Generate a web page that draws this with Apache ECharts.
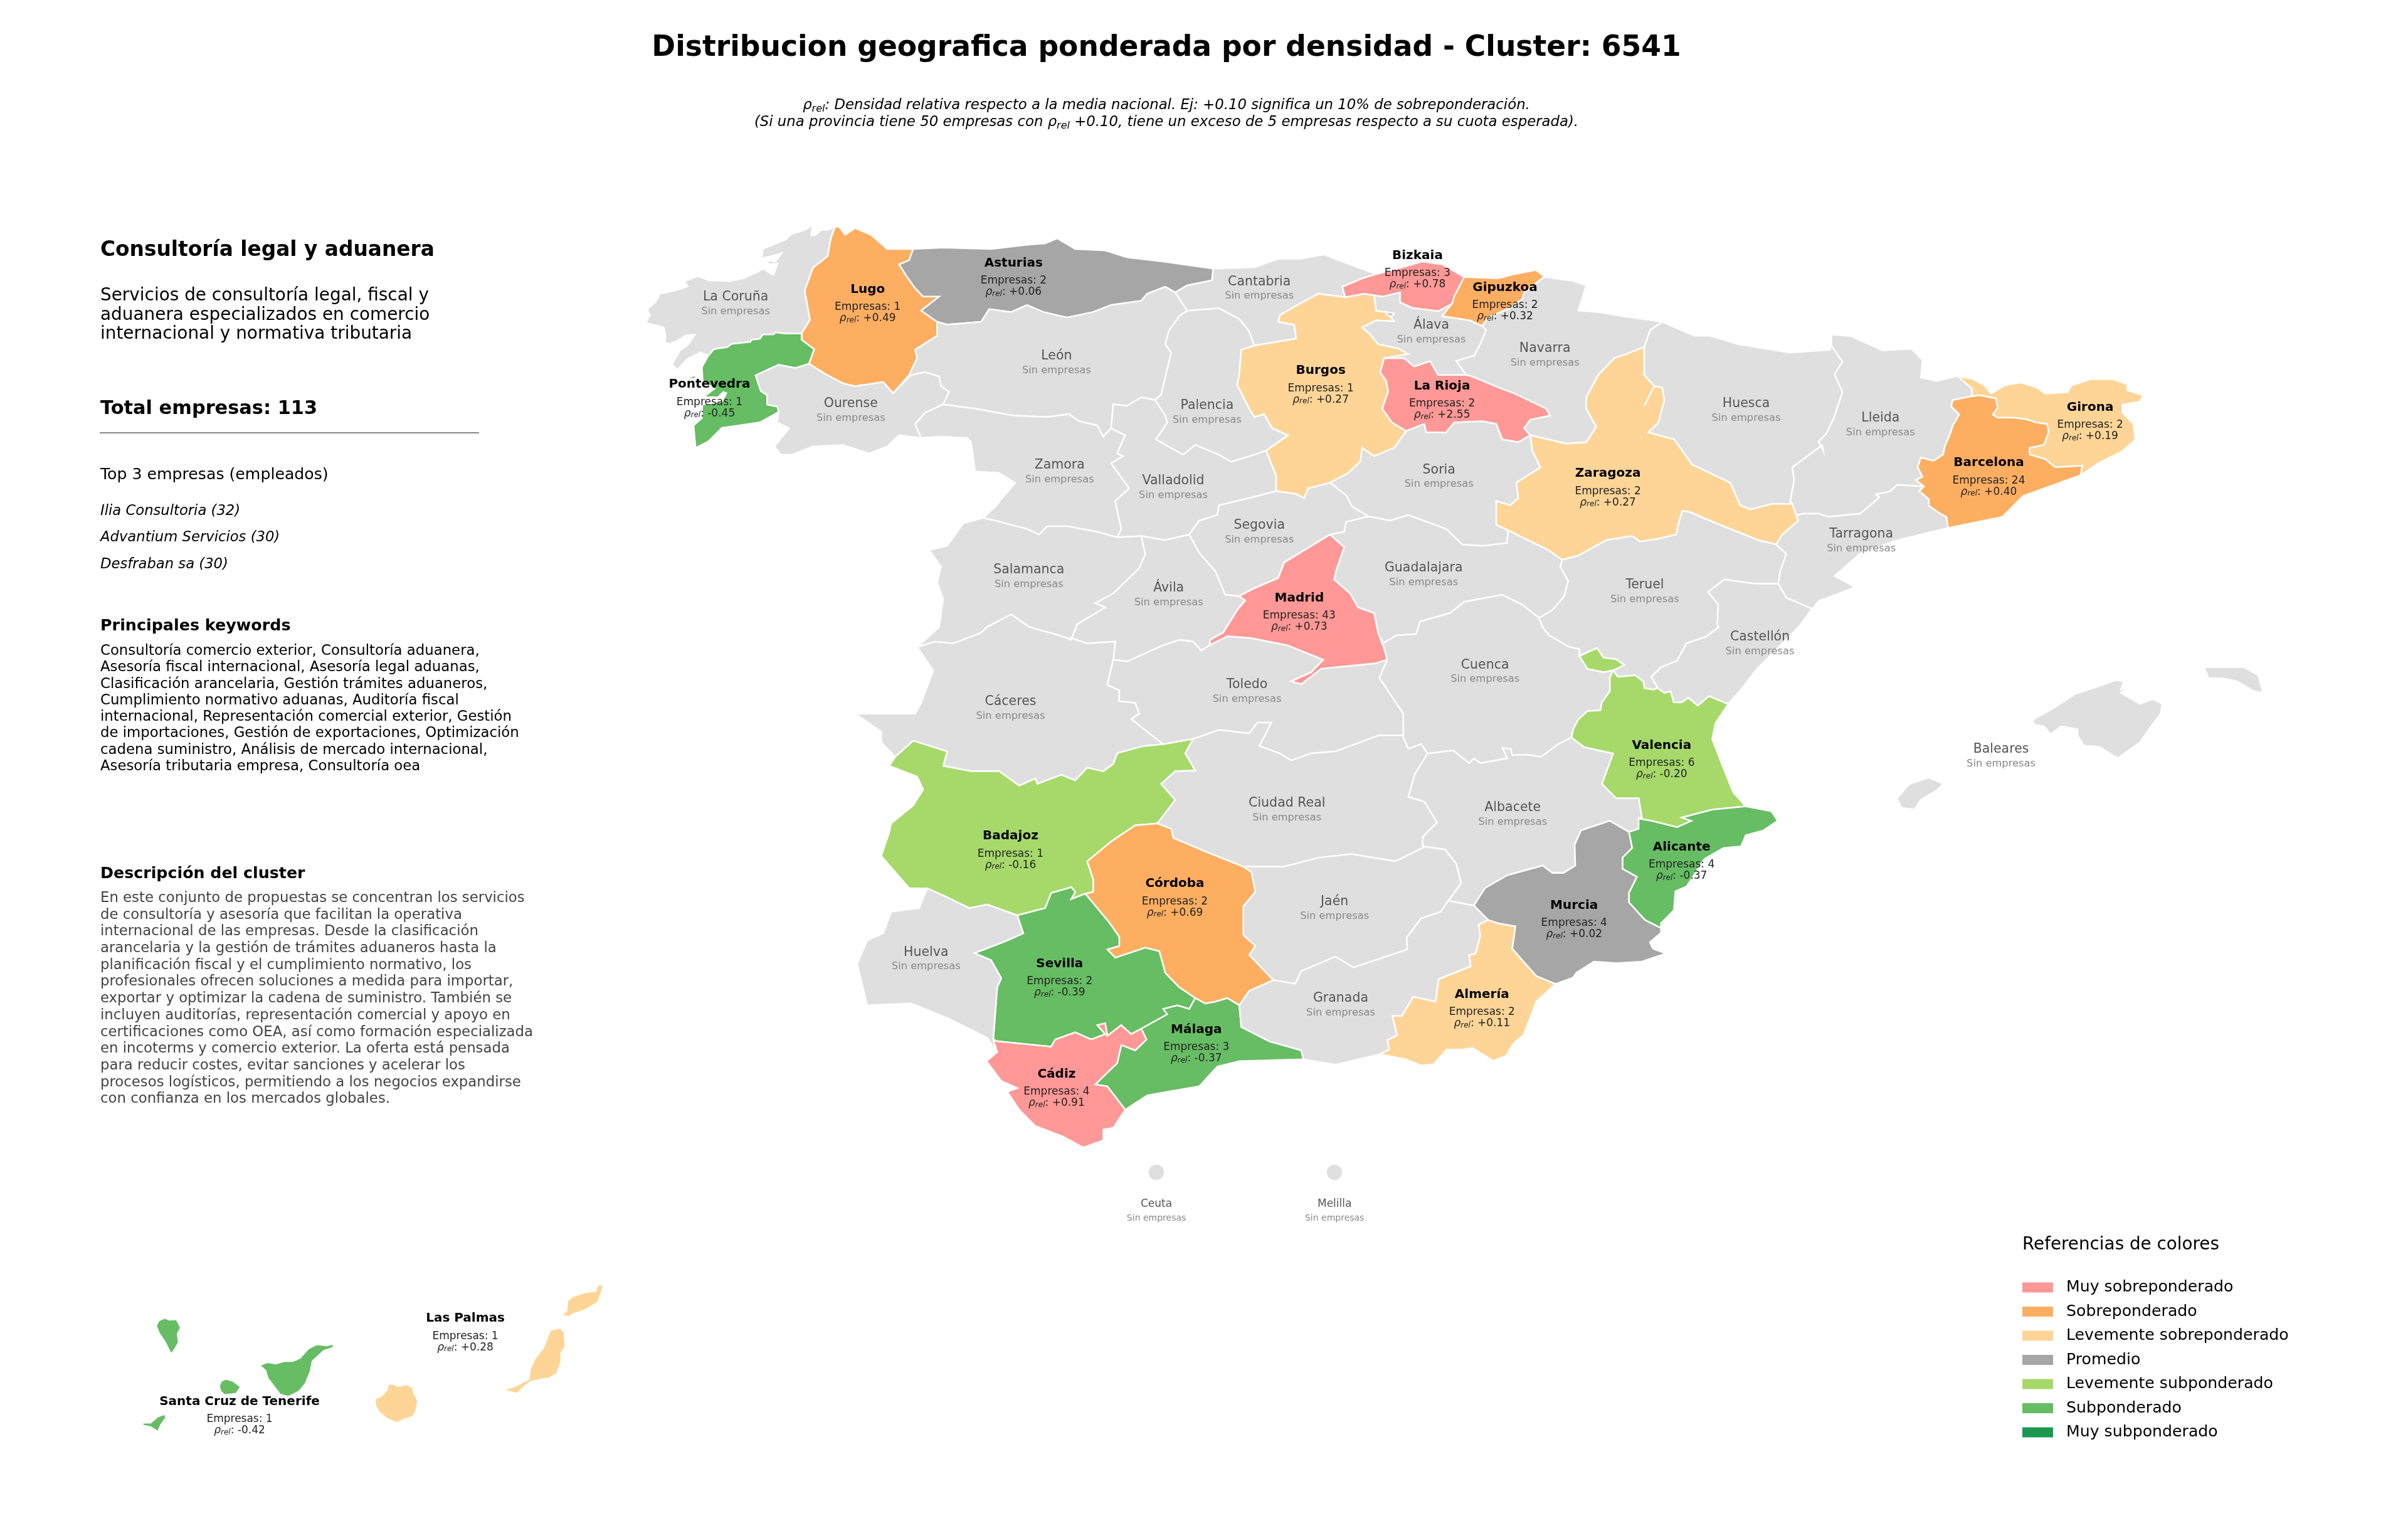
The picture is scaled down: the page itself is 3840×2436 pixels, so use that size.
<!DOCTYPE html>
<html>
<head>
<meta charset="UTF-8">
<title>Distribucion geografica ponderada por densidad</title>
<script src="https://cdn.jsdelivr.net/npm/echarts@6/dist/echarts.min.js"></script>
<style>html,body{margin:0;padding:0;background:#fff}#main{width:3840px;height:2436px}</style>
</head>
<body>
<div id="main"></div>
<script>
// provinces with companies
var provinces = ['Lugo','Asturias','Pontevedra','Bizkaia','Gipuzkoa','Burgos','La Rioja','Zaragoza','Girona','Barcelona','Madrid','Valencia','Badajoz','Córdoba','Alicante','Murcia','Almería','Sevilla','Málaga','Cádiz','Las Palmas','Santa Cruz de Tenerife'];
var empresas = [1,2,1,3,2,1,2,2,2,24,43,6,1,2,4,4,2,2,3,4,1,1];
var rhoRel = [0.49,0.06,-0.45,0.78,0.32,0.27,2.55,0.27,0.19,0.40,0.73,-0.20,-0.16,0.69,-0.37,0.02,0.11,-0.39,-0.37,0.91,0.28,-0.42];

var classLabels = ['Muy sobreponderado','Sobreponderado','Levemente sobreponderado','Promedio','Levemente subponderado','Subponderado','Muy subponderado'];
var classColors = ['#FF9896','#FDAE61','#FED597','#A6A6A6','#A6D96A','#66BD63','#1A9850'];
var classLimits = [[0.7,null],[0.3,0.7],[0.1,0.3],[-0.1,0.1],[-0.3,-0.1],[-0.5,-0.3],[null,-0.5]];

var topEmpresas = ['Ilia Consultoria (32)','Advantium Servicios (30)','Desfraban sa (30)'];
var resumen = ['Servicios de consultoría legal, fiscal y','aduanera especializados en comercio','internacional y normativa tributaria'];
var keywords = ['Consultoría comercio exterior, Consultoría aduanera,','Asesoría fiscal internacional, Asesoría legal aduanas,','Clasificación arancelaria, Gestión trámites aduaneros,','Cumplimiento normativo aduanas, Auditoría fiscal','internacional, Representación comercial exterior, Gestión','de importaciones, Gestión de exportaciones, Optimización','cadena suministro, Análisis de mercado internacional,','Asesoría tributaria empresa, Consultoría oea'];
var descripcion = ['En este conjunto de propuestas se concentran los servicios','de consultoría y asesoría que facilitan la operativa','internacional de las empresas. Desde la clasificación','arancelaria y la gestión de trámites aduaneros hasta la','planificación fiscal y el cumplimiento normativo, los','profesionales ofrecen soluciones a medida para importar,','exportar y optimizar la cadena de suministro. También se','incluyen auditorías, representación comercial y apoyo en','certificaciones como OEA, así como formación especializada','en incoterms y comercio exterior. La oferta está pensada','para reducir costes, evitar sanciones y acelerar los','procesos logísticos, permitiendo a los negocios expandirse','con confianza en los mercados globales.'];

function frame(x0,y0,sx,sy){ return function(){ var out=[]; for(var i=0;i<arguments.length;i+=2) out.push([x0+arguments[i]*sx,y0+arguments[i+1]*sy]); return out; }; }
var z1=frame(1000,330,.638,.4464), z2=frame(2000,330,.638,.4464), z3=frame(2900,500,.51,.51), z4=frame(1300,1000,.638,.574), z5=frame(2200,1000,.51,.51);
var z7=frame(1020,350,1/3,1/3), zc=frame(220,2090,1/3,1/3), zl=frame(580,2020,1/3,1/3);
var PX=2.449;

var arcs = {
 cor_coast:z7(935,35,900,50,870,50,840,75,820,75,830,25,790,50,725,70,700,95,640,120,590,140,585,185,650,170,680,160,650,200,600,195,620,215,660,210,640,265,590,235,565,250,500,280,430,295,330,290,280,270,215,295,230,320,170,340,95,355,85,380,70,400,35,430,50,455,30,495,115,515,125,560,120,585,140,595,180,580,220,555,265,550,230,600,195,625,155,690,180,720,225,670,290,635,330,650,355,620),
 lc_po:z7(355,620,420,610,440,595,530,585,535,575,575,570,590,550,640,550,650,540,700,545,775,545),
 lc_lu:z7(775,545,815,480,790,340,830,230,900,175,915,90,935,35),
 lu_coast:z7(935,35).concat(z1(530,70,545,100,570,75,610,100,650,150,715,150)),
 lu_as:z1(715,150,705,190,680,205,700,250,720,290,740,320,780,320,735,370,775,410),
 lu_le:z1(775,410,775,460,720,510,725,540,705,600,665,665),
 lu_or:z1(665,665,640,625,570,640,540,630,500,600).concat(z7(810,690)),
 lu_po:z7(810,690,835,620,775,575,775,545),
 po_coast:z7(355,620,330,650,298,705,302,775,358,808,305,850,375,850,400,825,415,830,395,870,300,885,298,950,258,985,268,1092),
 po_pt:z7(268,1092,330,1060,395,995,440,990,575,970,640,935,665,920),
 po_or:z7(665,920,660,895,610,885,610,840,580,820,555,745,610,720,665,695,745,710,810,690),
 or_le:z1(665,665,710,600,745,590,780,605,785,640,805,660,790,705),
 or_za:z1(790,705,745,735,720,775,735,825),
 or_pt:z1(735,825,680,815,650,855,605,880,540,850,465,855,410,885,385,885,368,855,405,790,375,770).concat(z7(665,920)),
 as_coast:z1(715,150,790,145,910,150,1000,135,1045,130,1075,112,1120,150,1195,155,1250,180,1340,195,1465,220),
 as_ca:z1(1465,220,1462,262,1400,280,1370,305),
 as_le:z1(1370,305,1345,285,1300,310,1285,335,1210,350,1165,375,1100,395,1040,375,1000,350,960,375,905,365,885,410,800,420,775,410),
 le_ca:z1(1370,305,1400,370),
 le_pa:z1(1400,370,1380,390,1355,440,1345,490,1360,520,1335,670,1320,690),
 le_va:z1(1320,690,1305,685,1285,680,1250,710,1215,705,1210,790),
 le_za:z1(1210,790,1190,820,1175,780,1130,765,1105,740,1050,750,965,745,870,720,790,705),
 za_va:z1(1210,790,1245,815,1225,880,1240,890,1210,915,1255,1005,1220,1050,1235,1150,1225,1180),
 za_sa:z1(1225,1180,1175,1160,1100,1140,1050,1140,1030,1170,1000,1150,920,1120,890,1110),
 za_pt:z1(890,1110,920,1070,970,985,930,950,870,945,860,840,850,825,780,820,735,825),
 pa_ca:z1(1400,370,1480,362,1530,400,1555,445,1568,495),
 pa_bu:z1(1568,495,1535,510,1530,600,1525,635,1555,720,1568,750).concat(z2(25,740,45,790,85,815,30,870)),
 va_pa:z1(1320,690,1345,745,1350,770,1322,830,1390,885,1420,850,1480,885,1510,910,1568,885).concat(z2(30,870)),
 va_bu:z2(30,870,55,960,55,1015),
 va_se:z2(55,1015,0,1035).concat(z1(1480,1065,1475,1100,1430,1120,1405,1170)),
 va_av:z1(1405,1170,1345,1190,1285,1175),
 va_sa:z1(1285,1175,1225,1180),
 ca_coast:z1(1465,220,1568,215).concat(z2(60,185,115,185,175,170,230,200,305,240)),
 ca_bi:z2(305,240,270,255,220,285,228,322),
 ca_bu:z2(228,322,160,310,115,345,65,385,60,410,100,420,105,470,0,495),
 bu_bi:z2(228,322,275,310,300,315),
 bu_al:z2(300,315,305,370,330,375,350,408,305,405,270,430,290,455,310,490,360,505,385,525,325,540),
 bu_ri:z2(325,540,315,590,330,620,335,660,320,720,345,770,380,800),
 bu_so:z2(380,800,350,860,300,890,270,860,265,910,235,950,190,985),
 bu_se:z2(190,985,135,1005,125,1040,105,1025,55,1015),
 ri_so:z2(380,800,425,775,430,805,480,805,500,770,570,765,605,775,620,830,660,840,690,815),
 ri_na:z2(690,815,675,790,690,760,740,745,730,720,650,665,620,650,545,605,530,600),
 ri_al:z2(530,600,460,600,440,550,400,570,375,540,325,540),
 al_bi:z2(300,315,320,320,365,305,365,340,395,360,460,372,495,345),
 al_gi:z2(495,345,470,390,540,405,570,425),
 al_na:z2(570,425,580,440,565,490,550,530,505,550,530,600),
 bi_coast:z2(305,240,345,225,420,195,470,205,525,250),
 bi_gi:z2(525,250,500,320,495,345),
 gi_coast:z2(525,250,610,255,650,240,705,225,725,250),
 gi_na:z2(725,250,675,305,670,330,640,360,585,395,570,425),
 na_coast:z2(725,250,800,265,830,280,810,370,860,375,920,390,1020,410),
 na_hu:z2(1020,410,990,440,975,500),
 na_za:z2(975,500,940,520,900,540,860,600,830,680,830,720,855,785,830,840,780,845,690,815),
 hu_fr:z2(1020,410,1100,460,1140,460,1210,490,1340,520,1440,510,1445,455),
 hu_ll:z3(40,65,40,100,75,150,50,190,75,245,50,320,25,375,0,400,15,430).concat(z2(1420,850,1345,930,1350,975,1340,1050,1345,1060)),
 hu_za:z2(1345,1060,1295,1060,1240,1080,1215,1065,1190,985,1095,920,1050,830,985,805,1010,770,1025,690,1020,645,1000,640,975,710,1000,640,975,600,975,500),
 za_ll:z2(1345,1060,1355,1100),
 za_ta:z2(1355,1100,1360,1120,1320,1170,1305,1205),
 te_za:z2(770,1260,810,1245,880,1190,945,1175,965,1195,1010,1185,1055,1170,1060,1135,1070,1085,1090,1090,1130,1115,1260,1190,1305,1205),
 gu_za:z2(635,1155,735,1225,770,1260),
 so_za:z2(690,815,695,870,715,930,655,985,660,1040,640,1065,605,1050,605,1135,635,1155),
 so_se:z2(190,985,230,1030,245,1070,285,1105),
 so_gu:z2(285,1105,340,1120,385,1100,480,1150,520,1205,570,1210,632,1200,635,1155),
 se_gu:z2(285,1105,230,1125,225,1160,190,1170),
 ma_se:z2(190,1170,120,1230,75,1270,60,1325,0,1362).concat(z1(1530,1390)),
 se_av:z1(1530,1390,1495,1385,1470,1300,1430,1235,1405,1170),
 av_sa:z1(1285,1175,1295,1240,1280,1290,1215,1380,1170,1415,1195,1430,1125,1490,1110,1545),
 av_ca:z4(640,30,680,45,750,40,745,90),
 av_to:z4(745,90,780,95,830,70,870,50,910,35,945,40,965,65,985,50),
 ma_av:z4(985,50).concat(z1(1455,1568,1458,1545,1490,1520,1525,1440,1545,1405,1530,1390)),
 ma_to:z4(985,50,1030,25,1090,30,1180,50,1270,90,1240,125,1190,150,1215,158,1265,115,1400,100,1430,90),
 ma_gu:z2(190,1170,225,1215,205,1300,200,1330,240,1380,260,1430,300,1450,310,1520,320,1560),
 ma_cu:z2(320,1560).concat(z4(1415,30,1430,90)),
 gu_te:z2(770,1260,765,1285,785,1335,775,1390,745,1440,712,1468),
 gu_cu:z2(712,1468,670,1420,620,1385,525,1410,490,1450,415,1480,405,1525,355,1530,320,1560),
 te_cu:z2(712,1468).concat(z5(510,0,530,25,590,60,625,68,625,90)),
 ad_top:z5(625,90,680,65,700,95,740,100,765,118),
 ad_e:z5(765,118,730,135),
 ad_bot:z5(625,90,650,130,700,140,730,135),
 cu_va:z5(730,135,720,158,720,200,695,235,690,260,650,262,620,290,605,320,600,345),
 cu_al:z5(600,345,560,365,505,405,460,398,415,400,410,380,385,378,400,410,315,425,295,410,280,425,230,385,150,395),
 cu_cr:z5(150,395,130,365,90,380,72,340),
 to_cu:z4(1430,90,1410,140,1470,240,1470,300),
 to_cr:z4(1470,300,1410,300,1300,345,1240,350,1190,370,1160,350,1110,330,1140,265,1105,265,1085,295,1010,285,945,310),
 to_ba:z4(945,310,870,325),
 ca_to:z4(745,90,730,160,760,175,760,205,800,210,810,240,790,255,870,325),
 ca_ba:z4(870,325,820,330,755,350,745,380,720,400,680,390,650,425,615,410,555,435,550,420,510,440,460,400,390,400,320,385,330,345,245,315,200,360),
 ca_pt:z4(200,360,165,320,165,290,100,240,250,240,265,210,295,120,255,55),
 sa_ca:z1(1110,1545,1080,1530,1005,1500,960,1455,900,1500).concat(z4(415,15,345,45,300,40,255,55)),
 sa_pt:z4(255,55).concat(z1(780,1500,790,1400,775,1340,785,1285,755,1225,800,1210,840,1130,890,1110)),
 te_ta:z2(1305,1205,1330,1240,1315,1300,1310,1345),
 te_cas:z2(1310,1345,1250,1345,1175,1330,1135,1375,1160,1420,1158,1490).concat(z5(1060,0,1020,30,960,50,930,105,880,125,850,155,870,190)),
 va_te:z5(730,135,745,155,800,150,825,170,828,190,855,195,870,190),
 va_cas:z5(870,190,890,205,910,200,920,235,945,235,965,220,995,245,1030,215,1090,240),
 va_coast:z5(1090,240,1050,300,1040,350,1075,440,1105,515,1145,560),
 ali_va:z5(810,598,850,605,930,625,975,605,945,595,1040,570,1145,560),
 alb_va:z5(810,598,820,595,810,535,740,535,695,490,730,395,640,375,600,345),
 alb_ali:z5(810,598,810,630,780,640),
 alb_mu:z5(780,640,720,605,660,625,630,635,610,680,612,745,575,768,540,768,510,745,400,775,330,815,295,870),
 gr_al:z5(295,870,215,855),
 ja_al:z5(215,855,255,800,240,740,205,695,135,685),
 cr_al:z5(150,395,110,460,90,530,140,545,180,610,135,655,135,685),
 ta_cas:z2(1310,1345,1330,1395,1395,1435),
 cas_coast:z2(1395,1435).concat(z5(1310,0,1240,70,1180,130,1130,195,1090,240)),
 ta_coast:z3(405,670,320,690,240,710,130,750,50,820,115,855,50,880,0,898).concat(z2(1395,1435)),
 ba_ta:z3(330,540,315,555,345,580,345,600,380,625,400,635,405,670),
 ta_ll:z3(330,540,245,535,225,555,180,565,190,575,130,625,30,635,0,625).concat(z2(1375,1095,1355,1100)),
 ll_fr:z3(40,65,100,70,200,115,290,110,325,145,320,200,370,210,435,195),
 ll_gi:z3(435,195,480,235,480,258),
 ll_ba:z3(480,258,420,270,415,290,440,315,420,350,410,380,395,415,390,440,360,460,320,450,310,480,325,510,305,520,330,540),
 gi_ba:z3(480,258,505,255,555,265,560,295,545,315,560,325,610,325,650,330,680,340,715,345,720,370,705,410,660,420,660,440,710,455,740,480,825,475,820,505),
 ba_coast:z3(405,670,575,635,640,570,820,505),
 gi_fr:z3(435,195,485,205,520,225,540,250,580,225,630,215,680,230,710,250,780,245,790,225,850,205,920,205,965,220,965,240,1015,255,1005,275,950,285,950,310,985,345,990,395,950,430,880,465,820,505),
 ba_cr:z4(945,310,925,350,950,398,900,400,865,435,900,480,855,545),
 ba_co:z4(855,545,800,550,740,595,680,650,695,700,695,735,675,740),
 ba_se:z4(675,740,640,755,650,735,640,722,590,738,575,780,505,800),
 ba_hu:z4(505,800,430,770,385,780,320,745,280,725),
 ba_pt:z4(280,725,235,725,165,635,185,570,190,545,245,495,270,450,255,415,185,385,200,360),
 ja_cr:z4(1070,665,1170,665,1260,640,1340,630,1450,650,1520,612),
 co_cr:z4(1070,665,980,625,895,585,890,560,855,545),
 co_ja:z4(1070,665,1090,680,1100,735,1070,775,1070,855,1100,885,1085,910,1145,980),
 co_gr:z4(1145,980,1085,1010,1060,1050),
 co_ma:z4(1060,1050,1030,1030,1000,1040,975,1045,950,1030),
 se_co:z4(675,740,735,820,760,860,760,885,730,895,750,918,825,890,860,900,875,960,910,1000,950,1030),
 se_ma:z4(815,1115,880,1075,870,1060,905,1050,935,1060,950,1030),
 se_cad:z4(445,1145,455,1150,590,1165,600,1145,650,1125,690,1145,725,1130,705,1105,725,1100,730,1135,765,1105,790,1130,815,1115),
 hu_se:z4(445,1145,455,1000,465,975,440,925,398,905,480,870,520,850,505,800),
 hu_coast:z4(445,1145,452,1178,430,1140,330,1085,240,1045,130,1050,105,935,130,870,170,850,190,790,260,780,280,725),
 ma_gr:z4(1060,1050,1065,1110,1135,1150,1215,1175,1220,1200),
 ma_coast:z4(775,1340,830,1300,960,1275,1005,1220,1060,1205,1220,1200),
 ma_cad:z4(815,1115,828,1145,800,1175,765,1160,755,1210,700,1270,730,1275,775,1340),
 cad_coast:z4(775,1340,745,1390,720,1395,720,1425,670,1445,620,1415,550,1385,510,1340,480,1290,505,1280,465,1260,428,1205,455,1180,445,1145),
 gr_ja:z4(1145,980,1200,990,1215,955,1300,915,1345,945,1480,895).concat(z5(85,970,130,910,190,890,215,855)),
 gr_mu:z5(295,870,340,915),
 gr_am:z5(340,915,310,930,315,965,300,1020,280,1025,285,1060,185,1100,175,1170,105,1155,70,1215,40,1215,55,1275,25,1290,30,1320,0,1335),
 gr_coast:z5(0,1335).concat(z4(1300,1215,1220,1200)),
 am_mu:z5(340,915,370,925,425,935,415,1005,490,1090,550,1115),
 am_coast:z5(550,1115,490,1170,450,1275,420,1300,395,1340,355,1355,290,1315,260,1320,210,1320,170,1365,130,1370,80,1350,0,1335),
 mu_coast:z5(550,1115,605,1095,615,1080,670,1045,740,1050,820,1045,895,1020,855,1005,845,985,880,955,880,940),
 mu_ali:z5(780,640,790,690,760,720,760,755,805,780,780,830,780,860,830,915,880,940),
 ali_coast:z5(880,940,880,925,920,885,925,825,960,810,1015,725,1075,690,1130,685,1145,650,1200,635,1245,605,1225,575,1145,560)
};

function ring(){
  var out=[];
  for(var i=0;i<arguments.length;i++){
    var n=arguments[i], a=n.charAt(0)=='-' ? arcs[n.slice(1)].slice().reverse() : arcs[n];
    out=out.concat(a);
  }
  out.push(out[0]);
  return out;
}
function closed(pts){ return pts.concat([pts[0]]); }
function disc(x,y,r){ var pts=[]; for(var i=0;i<24;i++) pts.push([x+r*Math.cos(i*Math.PI/12),y+r*Math.sin(i*Math.PI/12)]); return closed(pts); }

// label centres: named provinces sit a bit lower than the name line
function cpE(x,y){ return [x*PX,y*PX]; }
function cpF(x,y){ return [x*PX,y*PX+19]; }

var shapes = {
 'La Coruña':{cp:cpE(479,197.5),rings:[ring('cor_coast','lc_po','lc_lu')]},
 'Lugo':{cp:cpF(565,188),rings:[ring('lu_coast','lu_as','lu_le','lu_or','lu_po','lc_lu')]},
 'Pontevedra':{cp:cpF(462,250),rings:[ring('po_coast','po_pt','po_or','lu_po','-lc_po'),closed(z7(235,755,265,745,270,760,240,762))]},
 'Ourense':{cp:cpE(554,267),rings:[ring('po_or','-lu_or','or_le','or_za','or_pt')]},
 'Asturias':{cp:cpF(660,171),rings:[ring('as_coast','as_ca','as_le','-lu_as')]},
 'León':{cp:cpE(688,236),rings:[ring('-as_le','le_ca','le_pa','le_va','le_za','-or_le','-lu_le')]},
 'Zamora':{cp:cpE(690,307),rings:[ring('-or_za','-le_za','za_va','za_sa','za_pt')]},
 'Cantabria':{cp:cpE(820,187.5),rings:[ring('ca_coast','ca_bi','ca_bu','-pa_ca','-le_ca','-as_ca')]},
 'Palencia':{cp:cpE(786,268),rings:[ring('pa_ca','pa_bu','-va_pa','-le_pa')]},
 'Valladolid':{cp:cpE(764,317),rings:[ring('-za_va','-le_va','va_pa','va_bu','va_se','va_av','va_sa')]},
 'Burgos':{cp:cpF(860,241),rings:[ring('-pa_bu','-ca_bu','bu_bi','bu_al','bu_ri','bu_so','bu_se','-va_bu'),closed(z2(395,480,470,490,490,530,440,520,410,510))]},
 'La Rioja':{cp:cpF(939,251),rings:[ring('bu_ri','ri_so','ri_na','ri_al')]},
 'Álava':{cp:cpE(932,216),rings:[ring('al_bi','al_gi','al_na','ri_al','-bu_al')]},
 'Bizkaia':{cp:cpF(923,166),rings:[ring('bi_coast','bi_gi','-al_bi','-bu_bi','-ca_bi'),closed(z2(330,375,350,380,345,390,332,385))]},
 'Gipuzkoa':{cp:cpF(980,187),rings:[ring('gi_coast','gi_na','-al_gi','-bi_gi')]},
 'Navarra':{cp:cpE(1006,231),rings:[ring('na_coast','na_hu','na_za','ri_na','-al_na','-gi_na')]},
 'Huesca':{cp:cpE(1137,267),rings:[ring('hu_fr','hu_ll','hu_za','-na_hu')]},
 'Zaragoza':{cp:cpF(1047,308),rings:[ring('-hu_za','za_ll','za_ta','-te_za','-gu_za','-so_za','-na_za')]},
 'Soria':{cp:cpE(937,310),rings:[ring('bu_so','so_se','so_gu','-so_za','-ri_so')]},
 'Segovia':{cp:cpE(820,346),rings:[ring('-bu_se','so_se','se_gu','ma_se','se_av','-va_se')]},
 'Ávila':{cp:cpE(761,387),rings:[ring('va_av','av_sa','av_ca','av_to','ma_av','se_av')]},
 'Salamanca':{cp:cpE(670,375),rings:[ring('-va_sa','av_sa','sa_ca','sa_pt','-za_sa')]},
 'Cáceres':{cp:cpE(658,461),rings:[ring('-sa_ca','av_ca','ca_to','ca_ba','ca_pt')]},
 'Toledo':{cp:cpE(812,450),rings:[ring('-ca_to','av_to','ma_to','to_cu','to_cr','to_ba')]},
 'Madrid':{cp:cpF(846,389),rings:[ring('ma_gu','ma_cu','-ma_to','ma_av','-ma_se')]},
 'Guadalajara':{cp:cpE(927,374),rings:[ring('so_gu','gu_za','gu_te','gu_cu','-ma_gu','-se_gu')]},
 'Cuenca':{cp:cpE(967,437),rings:[ring('-gu_cu','te_cu','ad_bot','cu_va','cu_al','cu_cr','-to_cu','-ma_cu')]},
 'Teruel':{cp:cpE(1071,385),rings:[ring('te_za','te_ta','te_cas','-va_te','-ad_e','-ad_top','-te_cu','-gu_te')]},
 'Valencia':{cp:cpF(1082,485),rings:[ring('va_te','va_cas','va_coast','-ali_va','alb_va','-cu_va'),ring('ad_top','ad_e','-ad_bot')]},
 'Castellón':{cp:cpE(1146,419),rings:[ring('-te_cas','ta_cas','cas_coast','-va_cas')]},
 'Tarragona':{cp:cpE(1212,352),rings:[ring('te_ta','ta_cas','-ta_coast','-ba_ta','ta_ll','za_ta')]},
 'Lleida':{cp:cpE(1224.5,276.5),rings:[ring('ll_fr','ll_gi','ll_ba','ta_ll','-za_ll','-hu_ll')]},
 'Barcelona':{cp:cpF(1295,301),rings:[ring('-ll_ba','gi_ba','-ba_coast','-ba_ta')]},
 'Girona':{cp:cpF(1361,265),rings:[ring('gi_fr','-gi_ba','-ll_gi')]},
 'Badajoz':{cp:cpF(658,544),rings:[ring('-ca_ba','-to_ba','ba_cr','ba_co','ba_se','ba_hu','ba_pt')]},
 'Ciudad Real':{cp:cpE(838,527),rings:[ring('-to_cr','-cu_cr','cr_al','-ja_cr','co_cr','-ba_cr')]},
 'Albacete':{cp:cpE(985,530),rings:[ring('-cu_al','-alb_va','alb_ali','alb_mu','gr_al','ja_al','-cr_al')]},
 'Jaén':{cp:cpE(869,591),rings:[ring('ja_cr','-ja_al','-gr_ja','-co_ja')]},
 'Córdoba':{cp:cpF(765,575),rings:[ring('co_ja','co_gr','co_ma','-se_co','-ba_co','-co_cr')]},
 'Sevilla':{cp:cpF(690,627),rings:[ring('-ba_se','se_co','-se_ma','-se_cad','hu_se')]},
 'Huelva':{cp:cpE(603,624),rings:[ring('-ba_hu','-hu_se','hu_coast')]},
 'Málaga':{cp:cpF(779,670),rings:[ring('se_ma','-co_ma','ma_gr','-ma_coast','-ma_cad')]},
 'Cádiz':{cp:cpF(688,699),rings:[ring('se_cad','ma_cad','cad_coast')]},
 'Granada':{cp:cpE(873,654),rings:[ring('-co_gr','gr_ja','-gr_al','gr_mu','gr_am','gr_coast','-ma_gr')]},
 'Almería':{cp:cpF(965,647),rings:[ring('-gr_am','am_mu','am_coast')]},
 'Murcia':{cp:cpF(1025,589),rings:[ring('gr_mu','am_mu','mu_coast','-mu_ali','alb_mu')]},
 'Alicante':{cp:cpF(1095,551),rings:[ring('mu_ali','ali_coast','-ali_va','alb_ali')]},
 'Baleares':{cp:cpE(1303,492),rings:[
   closed(z3(670,1270,740,1230,800,1190,860,1170,930,1145,955,1150,945,1175,975,1165,945,1185,1005,1220,1045,1205,1075,1220,1070,1250,1040,1290,1005,1340,935,1390,880,1355,830,1350,810,1320,810,1300,760,1290,725,1315,705,1290,675,1285)),
   closed(z3(1205,1105,1260,1105,1330,1105,1375,1130,1390,1185,1360,1180,1310,1150,1265,1140,1220,1140)),
   closed(z3(245,1515,285,1470,345,1450,390,1470,370,1490,320,1520,300,1550,260,1545))]},
 'Ceuta':{cp:[753*PX,787*PX+2],rings:[disc(1844,1869,13.5)]},
 'Melilla':{cp:[869*PX,787*PX+2],rings:[disc(2128,1869,13.5)]},
 'Santa Cruz de Tenerife':{cp:cpF(156,912),rings:[
   closed(zc(87,70,100,45,128,33,150,42,185,40,205,80,190,110,195,150,175,185,158,207,150,190,130,150,100,105)),
   closed(zc(582,260,620,245,660,252,700,240,740,240,775,225,815,180,855,160,905,165,935,157,935,175,890,190,835,240,825,290,800,350,770,385,720,410,680,400,650,360,620,320,610,285)),
   closed(zc(388,360,398,335,420,325,455,335,492,362,470,395,415,402,395,385)),
   closed(zc(18,535,60,535,95,505,128,493,135,510,110,545,95,578,60,555,25,548))]},
 'Las Palmas':{cp:cpF(303,858),rings:[
   closed(zl(55,630,85,615,110,590,118,558,145,560,165,570,205,562,235,575,240,600,260,640,250,690,235,715,190,730,160,745,110,725,70,690,55,660)),
   closed(zl(662,588,720,572,790,535,795,490,820,435,860,385,885,320,895,300,940,290,960,310,965,380,945,410,945,450,925,510,890,530,800,548,770,570,735,605)),
   closed(zl(945,232,970,210,975,160,1000,140,1060,120,1110,115,1120,85,1148,85,1135,130,1120,170,1060,205,1000,225,985,238)),
   closed(zl(1105,65,1115,48,1120,55,1110,68))]}
};

var features=[];
for(var name in shapes){
  features.push({type:'Feature',properties:{name:name,cp:shapes[name].cp},
    geometry:{type:'MultiPolygon',coordinates:shapes[name].rings.map(function(r){return [r];})}});
}
echarts.registerMap('espana',{type:'FeatureCollection',features:features});

function signed(v){ return (v>=0?'+':'-')+Math.abs(v).toFixed(2); }
function labelText(p){
  var i=provinces.indexOf(p.name);
  if(p.name=='Ceuta'||p.name=='Melilla') return '{c|'+p.name+'}\n{d|Sin empresas}';
  if(i<0) return '{m|'+p.name+'}\n{g|Sin empresas}';
  return '{b|'+p.name+'}\n{e|Empresas: '+empresas[i]+'}\n{r|ρ}{s|rel}{e|: '+signed(rhoRel[i])+'}';
}

var font='DejaVu Sans';
var myChart=echarts.init(document.getElementById('main'),null,{renderer:'canvas'});

function line(x,y,text,size,extra){
  var st={x:x,y:y,text:text,fontFamily:font,fontSize:size,fill:'#000',textVerticalAlign:'middle',verticalAlign:'middle'};
  for(var k in extra) st[k]=extra[k];
  return {type:'text',silent:true,style:st};
}
var g=[];
var noteRich={i:{fontFamily:font,fontStyle:'italic',fontSize:22.8,lineHeight:27,color:'#000'},s:{fontFamily:font,fontStyle:'italic',fontSize:16,lineHeight:27,verticalAlign:'bottom',color:'#000'}};
g.push(line(160,399,'Consultoría legal y aduanera',32.8,{fontWeight:'bold'}));
resumen.forEach(function(t,i){ g.push(line(160,472+i*30.6,t,27.9)); });
g.push(line(160,652,'Total empresas: 113',30.4,{fontWeight:'bold'}));
g.push({type:'line',silent:true,shape:{x1:159,y1:690,x2:764,y2:690},style:{stroke:'#888',lineWidth:2}});
g.push(line(160,757,'Top 3 empresas (empleados)',25.2));
topEmpresas.forEach(function(t,i){ g.push(line(160,815+i*42.5,t,22.7,{fontStyle:'italic'})); });
g.push(line(160,998,'Principales keywords',25.4,{fontWeight:'bold'}));
keywords.forEach(function(t,i){ g.push(line(160,1038+i*26.3,t,22.8)); });
g.push(line(160,1393,'Descripción del cluster',25.3,{fontWeight:'bold'}));
descripcion.forEach(function(t,i){ g.push(line(160,1432+i*26.7,t,22.8,{fill:'#444'})); });
g.push(line(3225,1985,'Referencias de colores',27.8));
g.push({type:'text',silent:true,style:{x:1860,y:182,align:'center',verticalAlign:'middle',textAlign:'center',textVerticalAlign:'middle',
  text:'{r|ρ}{s|rel}{i|: Densidad relativa respecto a la media nacional. Ej: +0.10 significa un 10% de sobreponderación.}\n{i|(Si una provincia tiene 50 empresas con }{r|ρ}{s|rel}{i| +0.10, tiene un exceso de 5 empresas respecto a su cuota esperada).}',
  rich:{i:noteRich.i,r:noteRich.i,s:noteRich.s}}});

var option={
  backgroundColor:'#fff',
  animation:false,
  title:{text:'Distribucion geografica ponderada por densidad - Cluster: 6541',left:1855,top:72,textAlign:'center',textVerticalAlign:'middle',
    textStyle:{fontFamily:font,fontWeight:'bold',fontSize:45.6,color:'#000'}},
  visualMap:{type:'piecewise',seriesIndex:0,left:3225,top:2040,padding:0,orient:'vertical',align:'left',itemWidth:49,itemHeight:16,itemGap:13.5,itemSymbol:'rect',textGap:21,
    textStyle:{fontFamily:font,fontSize:25.2,color:'#000'},
    pieces:classLabels.map(function(l,i){ var o={label:l,color:classColors[i]}; if(classLimits[i][0]!==null) o.gte=classLimits[i][0]; if(classLimits[i][1]!==null) o.lt=classLimits[i][1]; return o; })},
  graphic:g,
  series:[{
    type:'map',map:'espana',silent:true,roam:false,
    projection:{project:function(p){return [p[0],p[1]];},unproject:function(p){return [p[0],p[1]];}},
    boundingCoords:[[0,0],[3840,2436]],left:0,top:0,width:3840,height:2436,
    itemStyle:{areaColor:'#DFDFDF',borderColor:'#fff',borderWidth:2.5},
    label:{show:true,formatter:labelText,rich:{
      b:{fontFamily:font,fontWeight:'bold',fontSize:20,lineHeight:38,color:'#000'},
      e:{fontFamily:font,fontSize:17,lineHeight:18,color:'#222'},
      r:{fontFamily:font,fontStyle:'italic',fontSize:17,lineHeight:18,color:'#222'},
      s:{fontFamily:font,fontStyle:'italic',fontSize:12,lineHeight:18,verticalAlign:'bottom',color:'#222'},
      m:{fontFamily:font,fontSize:20.5,lineHeight:26,color:'#555'},
      g:{fontFamily:font,fontSize:16.3,lineHeight:20,color:'#888'},
      c:{fontFamily:font,fontSize:17,lineHeight:26,color:'#555'},
      d:{fontFamily:font,fontSize:14,lineHeight:20,color:'#888'}
    }},
    data:provinces.map(function(n,i){ return {name:n,value:rhoRel[i]}; })
  }]
};
myChart.setOption(option);
</script>
</body>
</html>
